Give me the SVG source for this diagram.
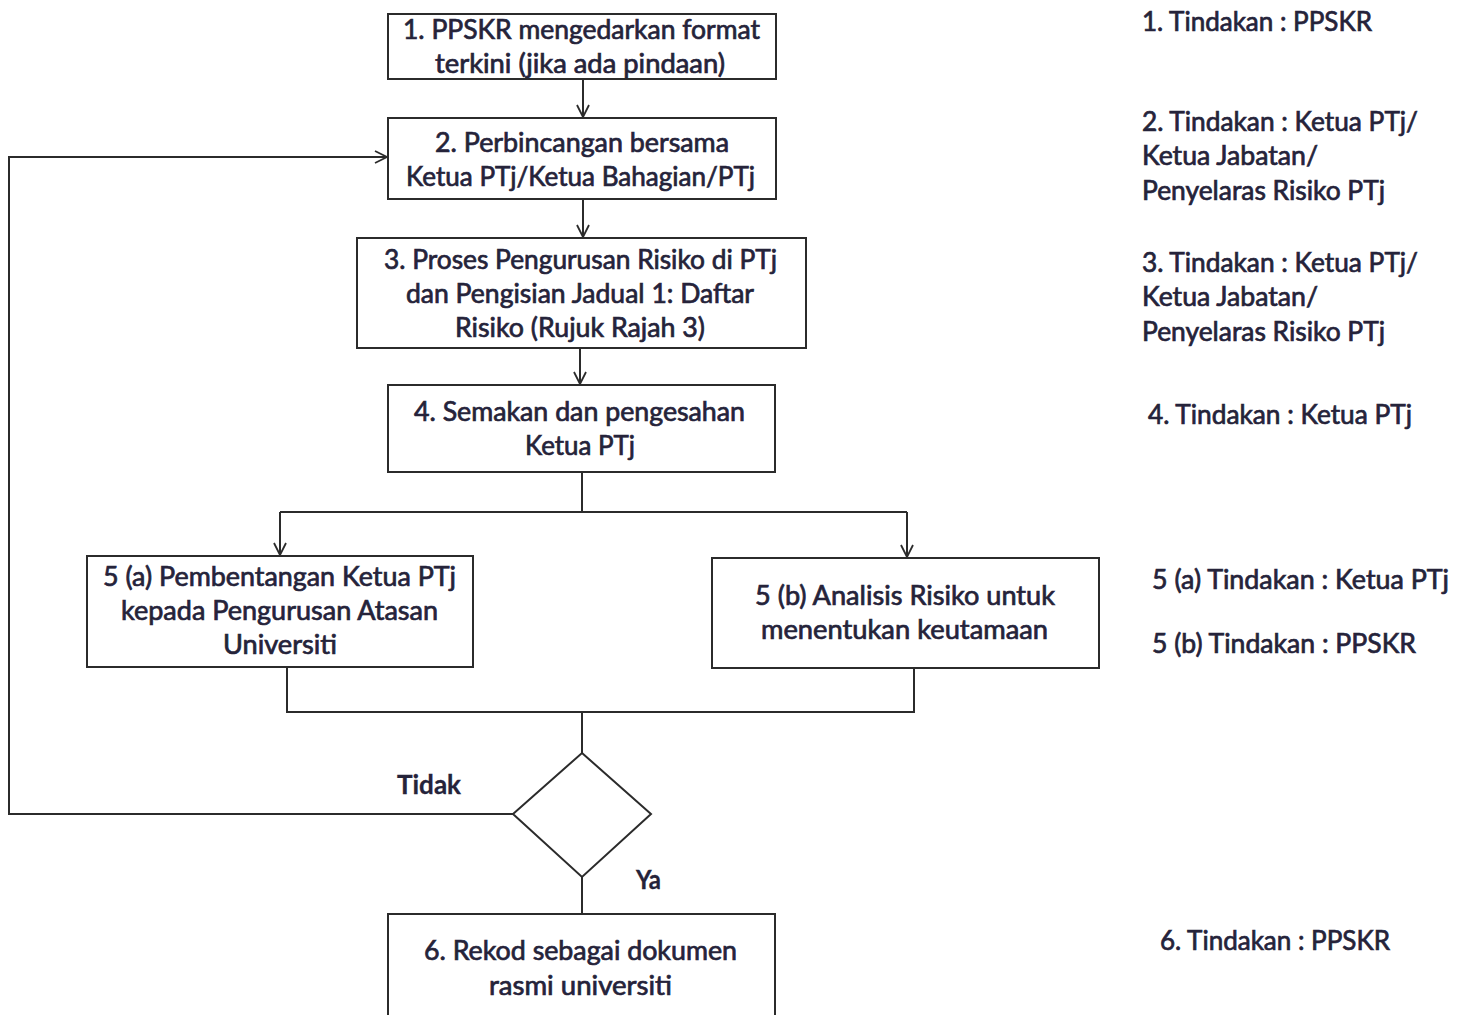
<svg xmlns="http://www.w3.org/2000/svg" width="1467" height="1015" viewBox="0 0 1467 1015">
<style>
.box{fill:#fff;stroke:#2b2b2b;stroke-width:2}
.ln{fill:none;stroke:#2b2b2b;stroke-width:2}
text{font-family:Lato,"Open Sans","Liberation Sans",sans-serif;font-size:26px;fill:#25233a;stroke:#25233a;stroke-width:0.7}
.lbl{font-weight:bold;stroke-width:0.3}
</style>
<defs>
<marker id="arr" viewBox="0 0 14 14" refX="13" refY="7" markerWidth="14" markerHeight="14" markerUnits="userSpaceOnUse" orient="auto">
<path d="M1,1 L13,7 L1,13" fill="none" stroke="#2b2b2b" stroke-width="1.8"/>
</marker>
</defs>
<rect width="1467" height="1015" fill="#fff"/>
<g id="connectors">
<line class="ln" x1="583" y1="79" x2="583" y2="117" marker-end="url(#arr)"/>
<line class="ln" x1="583" y1="199" x2="583" y2="237" marker-end="url(#arr)"/>
<line class="ln" x1="580" y1="348" x2="580" y2="384" marker-end="url(#arr)"/>
<polyline class="ln" points="582,472 582,512"/>
<polyline class="ln" points="280,512 907,512"/>
<line class="ln" x1="280" y1="512" x2="280" y2="555" marker-end="url(#arr)"/>
<line class="ln" x1="907" y1="512" x2="907" y2="557" marker-end="url(#arr)"/>
<polyline class="ln" points="287,667 287,712 914,712 914,668"/>
<polyline class="ln" points="582,712 582,753"/>
<polyline class="ln" points="513,814 9,814 9,157 387,157" marker-end="url(#arr)"/>
<polyline class="ln" points="582,877 582,914"/>
<text class="lbl" x="397" y="794" textLength="64" lengthAdjust="spacingAndGlyphs">Tidak</text>
<text class="lbl" x="636" y="889" textLength="25" lengthAdjust="spacingAndGlyphs">Ya</text>
</g>
<g id="n1">
<rect class="box" x="388" y="14" width="388" height="65"/>
<text x="403" y="39" textLength="357" lengthAdjust="spacingAndGlyphs">1. PPSKR mengedarkan format</text>
<text x="435" y="73" textLength="290" lengthAdjust="spacingAndGlyphs">terkini (jika ada pindaan)</text>
</g>
<g id="n2">
<rect class="box" x="388" y="118" width="388" height="81"/>
<text x="435" y="152" textLength="294" lengthAdjust="spacingAndGlyphs">2. Perbincangan bersama</text>
<text x="406" y="186" textLength="349" lengthAdjust="spacingAndGlyphs">Ketua PTj/Ketua Bahagian/PTj</text>
</g>
<g id="n3">
<rect class="box" x="357" y="238" width="449" height="110"/>
<text x="384" y="269" textLength="393" lengthAdjust="spacingAndGlyphs">3. Proses Pengurusan Risiko di PTj</text>
<text x="406" y="303" textLength="348" lengthAdjust="spacingAndGlyphs">dan Pengisian Jadual 1: Daftar</text>
<text x="455" y="337" textLength="250" lengthAdjust="spacingAndGlyphs">Risiko (Rujuk Rajah 3)</text>
</g>
<g id="n4">
<rect class="box" x="388" y="385" width="387" height="87"/>
<text x="414" y="421" textLength="331" lengthAdjust="spacingAndGlyphs">4. Semakan dan pengesahan</text>
<text x="525" y="455" textLength="110" lengthAdjust="spacingAndGlyphs">Ketua PTj</text>
</g>
<g id="n5a">
<rect class="box" x="87" y="556" width="386" height="111"/>
<text x="103" y="586" textLength="353" lengthAdjust="spacingAndGlyphs">5 (a) Pembentangan Ketua PTj</text>
<text x="121" y="620" textLength="317" lengthAdjust="spacingAndGlyphs">kepada Pengurusan Atasan</text>
<text x="223" y="654" textLength="114" lengthAdjust="spacingAndGlyphs">Universiti</text>
</g>
<g id="n5b">
<rect class="box" x="712" y="558" width="387" height="110"/>
<text x="755" y="605" textLength="300" lengthAdjust="spacingAndGlyphs">5 (b) Analisis Risiko untuk</text>
<text x="761" y="639" textLength="287" lengthAdjust="spacingAndGlyphs">menentukan keutamaan</text>
</g>
<g id="decision">
<polygon class="box" points="582,753 651,814 582,877 513,814"/>
</g>
<g id="n6">
<rect class="box" x="388" y="914" width="387" height="110"/>
<text x="424" y="960" textLength="313" lengthAdjust="spacingAndGlyphs">6. Rekod sebagai dokumen</text>
<text x="489" y="995" textLength="183" lengthAdjust="spacingAndGlyphs">rasmi universiti</text>
</g>
<g id="actions">
<text x="1142" y="31" textLength="230" lengthAdjust="spacingAndGlyphs">1. Tindakan : PPSKR</text>
<text x="1142" y="131" textLength="276" lengthAdjust="spacingAndGlyphs">2. Tindakan : Ketua PTj/</text>
<text x="1142" y="165" textLength="176" lengthAdjust="spacingAndGlyphs">Ketua Jabatan/</text>
<text x="1142" y="200" textLength="243" lengthAdjust="spacingAndGlyphs">Penyelaras Risiko PTj</text>
<text x="1142" y="272" textLength="276" lengthAdjust="spacingAndGlyphs">3. Tindakan : Ketua PTj/</text>
<text x="1142" y="306" textLength="176" lengthAdjust="spacingAndGlyphs">Ketua Jabatan/</text>
<text x="1142" y="341" textLength="243" lengthAdjust="spacingAndGlyphs">Penyelaras Risiko PTj</text>
<text x="1148" y="424" textLength="264" lengthAdjust="spacingAndGlyphs">4. Tindakan : Ketua PTj</text>
<text x="1152" y="589" textLength="297" lengthAdjust="spacingAndGlyphs">5 (a) Tindakan : Ketua PTj</text>
<text x="1152" y="653" textLength="264" lengthAdjust="spacingAndGlyphs">5 (b) Tindakan : PPSKR</text>
<text x="1160" y="950" textLength="230" lengthAdjust="spacingAndGlyphs">6. Tindakan : PPSKR</text>
</g>
</svg>
